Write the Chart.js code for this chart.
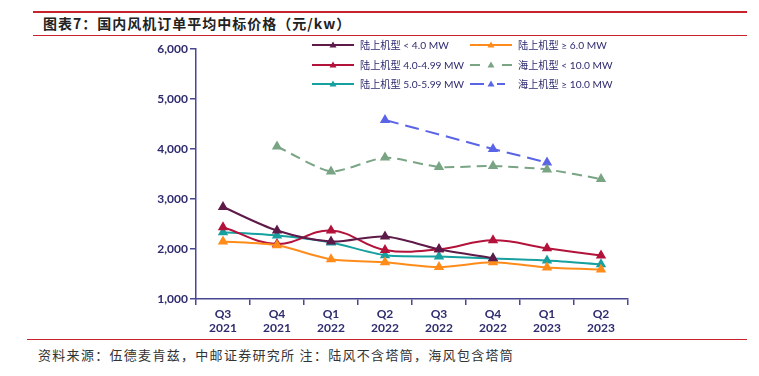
<!DOCTYPE html>
<html>
<head>
<meta charset="utf-8">
<script src="https://cdn.jsdelivr.net/npm/chart.js@4.4.1/dist/chart.umd.min.js"></script>
<style>
  body { margin: 0; background: #fff; width: 759px; height: 376px; position: relative; overflow: hidden; }
  .rule { position: absolute; background: #c8232c; }
  #title { position: absolute; left: 43px; top: 13px; font: bold 14px "Noto Sans CJK SC", sans-serif; color: #222; letter-spacing: 1px; }
  #source { position: absolute; left: 38px; top: 345px; font: 13px "Noto Sans CJK SC", sans-serif; color: #333; letter-spacing: 1.3px; }
  #wrap { position: absolute; left: 0; top: 36px; width: 759px; height: 303px; }
</style>
</head>
<body>
<div class="rule" style="left:33px; top:11px; width:714px; height:2px;"></div>
<div id="title">图表7：国内风机订单平均中标价格（元/kw）</div>
<div class="rule" style="left:33px; top:35px; width:714px; height:1px;"></div>
<div id="wrap"><canvas id="myChart"></canvas></div>
<div class="rule" style="left:27px; top:339px; width:720px; height:1px;"></div>
<div id="source">资料来源：伍德麦肯兹，中邮证券研究所 注：陆风不含塔筒，海风包含塔筒</div>

<script>
const quarters = [["Q3","2021"],["Q4","2021"],["Q1","2022"],["Q2","2022"],["Q3","2022"],["Q4","2022"],["Q1","2023"],["Q2","2023"]];

const onshoreLt4 = [2840, 2370, 2150, 2250, 1995, 1815, null, null];
const onshore4to5 = [2435, 2100, 2370, 1980, 1995, 2175, 2015, 1870];
const onshore5to6 = [2335, 2270, 2130, 1875, 1850, 1810, 1770, 1695];
const onshoreGe6 = [2150, 2075, 1795, 1735, 1640, 1735, 1630, 1590];
const offshoreLt10 = [null, 4050, 3550, 3830, 3640, 3660, 3590, 3400];
const offshoreGe10 = [null, null, null, 4580, null, 4000, 3730, null];

const yTicks = [1000, 2000, 3000, 4000, 5000, 6000];

const navy = '#2e2b6e';
const axisColor = '#4a4791';

function series(label, data, color, dash, tension) {
    return {
        label: label,
        data: data,
        borderColor: color,
        backgroundColor: color,
        borderWidth: 2,
        borderDash: dash,
        pointStyle: 'triangle',
        pointRadius: 4,
        pointHoverRadius: 4,
        tension: tension,
        spanGaps: true,
        fill: false
    };
}

// legend in two columns, drawn on the canvas
const legendPlugin = {
    id: 'twoColLegend',
    afterDraw(chart) {
        const ctx = chart.ctx;
        const cols = [312, 470];
        const rows = [9, 29, 48];
        chart.data.datasets.forEach((ds, i) => {
            const x = cols[i % 2];
            const y = rows[Math.floor(i / 2)];
            ctx.save();
            ctx.strokeStyle = ds.borderColor;
            ctx.lineWidth = 2;
            ctx.setLineDash(ds.borderDash || []);
            ctx.beginPath();
            ctx.moveTo(x, y);
            ctx.lineTo(x + 42, y);
            ctx.stroke();
            ctx.setLineDash([]);
            ctx.fillStyle = ds.borderColor;
            if (ds.borderDash && ds.borderDash.length) {
                ctx.fillStyle = '#fff';
                ctx.fillRect(x + 15, y - 4, 12, 8);
                ctx.fillStyle = ds.borderColor;
            }
            ctx.beginPath();
            ctx.moveTo(x + 21, y - 3.5);
            ctx.lineTo(x + 24.5, y + 2.5);
            ctx.lineTo(x + 17.5, y + 2.5);
            ctx.closePath();
            ctx.fill();
            ctx.fillStyle = navy;
            ctx.font = '10.2px "Lato", "Noto Sans CJK SC", sans-serif';
            ctx.textBaseline = 'middle';
            ctx.fillText(ds.label, x + 48, y + 1);
            ctx.restore();
        });
    }
};

const ctx = document.getElementById('myChart');

new Chart(ctx, {
    type: 'line',
    data: {
        labels: quarters,
        datasets: [
            series('陆上机型 < 4.0 MW', onshoreLt4, '#5e1a48', [], 0.3),
            series('陆上机型 ≥ 6.0 MW', onshoreGe6, '#ff8c1a', [], 0.25),
            series('陆上机型 4.0-4.99 MW', onshore4to5, '#b3123b', [], 0.4),
            series('海上机型 < 10.0 MW', offshoreLt10, '#7aa584', [10, 6], 0.2),
            series('陆上机型 5.0-5.99 MW', onshore5to6, '#17a0a0', [], 0.25),
            series('海上机型 ≥ 10.0 MW', offshoreGe10, '#5a64e6', [14, 7], 0)
        ]
    },
    options: {
        responsive: true,
        maintainAspectRatio: false,
        animation: false,
        layout: { padding: { left: 146, right: 131, top: 13, bottom: 0 } },
        plugins: {
            legend: { display: false },
            tooltip: { enabled: false }
        },
        scales: {
            x: {
                offset: true,
                afterFit: (s) => { s.height = 40; },
                border: { color: axisColor, width: 1.5 },
                grid: { offset: true, drawOnChartArea: false, tickLength: 6, color: axisColor, lineWidth: 1.5 },
                ticks: {
                    color: navy,
                    font: { family: 'Lato', size: 12, weight: 'bold', lineHeight: 1.2 },
                    maxRotation: 0,
                    padding: 2
                }
            },
            y: {
                min: 1000,
                max: 6000,
                afterFit: (s) => { s.width = 50; },
                afterBuildTicks: (s) => { s.ticks = yTicks.map(v => ({ value: v })); },
                border: { color: axisColor, width: 1.5 },
                grid: { drawOnChartArea: false, tickLength: 6, color: axisColor, lineWidth: 1.5 },
                ticks: {
                    color: navy,
                    font: { family: 'Lato', size: 12, weight: 'bold' },
                    padding: 2,
                    callback: (v) => v.toLocaleString('en-US')
                }
            }
        }
    },
    plugins: [legendPlugin]
});
</script>
</body>
</html>
